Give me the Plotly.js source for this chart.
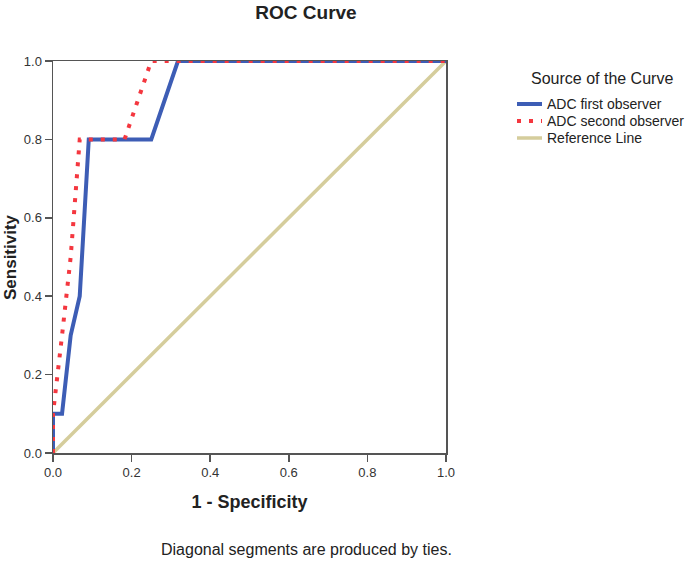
<!DOCTYPE html>
<html><head><meta charset="utf-8">
<script src="https://cdn.plot.ly/plotly-3.0.1.min.js"></script>
<style>body{margin:0;background:#fff}#c{width:685px;height:561px}</style>
</head><body><div id="c"></div>
<script>
// Data
const firstX  = [0, 0, 0.023, 0.045, 0.068, 0.091, 0.25, 0.318, 1];
const firstY  = [0, 0.1, 0.1, 0.3, 0.4, 0.8, 0.8, 1, 1];
const secondX = [0, 0, 0.023, 0.045, 0.068, 0.182, 0.25, 1];
const secondY = [0, 0.1, 0.3, 0.5, 0.8, 0.8, 1, 1];
const refX = [0, 1];
const refY = [0, 1];
const tickVals = [0, 0.2, 0.4, 0.6, 0.8, 1.0];
const seriesNames = ['ADC first observer', 'ADC second observer', 'Reference Line'];

const FAM = 'Liberation Sans, Arial, sans-serif';
const TXT = '#222';
const styles = [
  {color: '#3d5db5', width: 4, dash: 'solid'},
  {color: '#f4373f', width: 4, dash: '4px,8px'},
  {color: '#d5cd9c', width: 3.5, dash: 'solid'}
];

const traces = [
  {x: firstX, y: firstY, mode: 'lines', name: seriesNames[0], line: styles[0]},
  {x: secondX, y: secondY, mode: 'lines', name: seriesNames[1], line: styles[1]},
  {x: refX, y: refY, mode: 'lines', name: seriesNames[2], line: styles[2]}
];
// draw reference first so it's underneath
traces.unshift(traces.pop());

const L = 53, R = 239, T = 61, B = 108, W = 685, H = 561;
const PW = W - L - R, PH = H - T - B;
const px = v => (v - L) / PW;
const py = v => (H - B - v) / PH;

const axisCommon = {
  range: [0, 1], tickvals: tickVals, tickformat: '.1f',
  showgrid: false, zeroline: false, showline: true, mirror: true,
  linecolor: '#555', linewidth: 1.5, ticks: 'outside', ticklen: 7,
  tickcolor: '#555', tickwidth: 1.5, tickfont: {family: FAM, size: 13, color: '#333'},
  fixedrange: true
};

const shapes = [];
const annotations = [];
// legend (manual, to match spacing)
annotations.push({text: 'Source of the Curve', xref: 'paper', yref: 'paper',
  x: px(602), y: py(78), xanchor: 'center', yanchor: 'middle', showarrow: false,
  font: {family: FAM, size: 16, color: TXT}});
const legY = [104, 121, 138];
seriesNames.forEach((n, i) => {
  shapes.push({type: 'line', xref: 'paper', yref: 'paper',
    x0: px(517), x1: px(542), y0: py(legY[i]), y1: py(legY[i]),
    line: {color: styles[i].color, width: i === 2 ? 3.5 : 4, dash: styles[i].dash}});
  annotations.push({text: n, xref: 'paper', yref: 'paper', x: px(545), y: py(legY[i]),
    xanchor: 'left', yanchor: 'middle', showarrow: false,
    font: {family: FAM, size: 14, color: TXT}});
});
annotations.push({text: 'Diagonal segments are produced by ties.', xref: 'paper', yref: 'paper',
  x: px(306), y: py(549), xanchor: 'center', yanchor: 'middle', showarrow: false,
  font: {family: FAM, size: 16, color: TXT}});
// y-axis title placed explicitly
annotations.push({text: '<b>Sensitivity</b>', xref: 'paper', yref: 'paper',
  x: px(10), y: py(257), xanchor: 'center', yanchor: 'middle', textangle: -90, showarrow: false,
  font: {family: FAM, size: 17, color: TXT}});

const layout = {
  width: W, height: H,
  margin: {l: L, r: R, t: T, b: B, autoexpand: false},
  paper_bgcolor: '#fff', plot_bgcolor: '#fff',
  showlegend: false,
  font: {family: FAM, size: 13, color: TXT},
  title: {text: '<b>ROC Curve</b>', x: px(306), xref: 'paper', xanchor: 'center',
          y: 1 - 12/H, yanchor: 'middle', font: {family: FAM, size: 19, color: TXT}},
  xaxis: Object.assign({}, axisCommon, {
    title: {text: '<b>1 - Specificity</b>', font: {family: FAM, size: 18, color: TXT}, standoff: 16}
  }),
  yaxis: Object.assign({}, axisCommon),
  shapes: shapes,
  annotations: annotations
};

Plotly.newPlot('c', traces, layout, {displayModeBar: false, staticPlot: true});
</script>
</body></html>
